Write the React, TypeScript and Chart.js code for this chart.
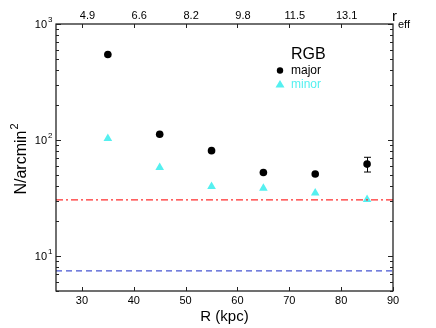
import React, { useEffect, useRef } from "react";
import { Chart, registerables } from "chart.js";

Chart.register(...registerables);

const radii = [35, 45, 55, 65, 75, 85];
const majorValues = [546, 112, 81, 52.5, 51, 62];
const majorErrors = [0, 0, 0, 0, 0, 9];
const minorValues = [103, 58, 39.7, 38.4, 35, 30.7];
const redLevel = 30.5;
const blueLevel = 7.45;
const xTickValues = [30, 40, 50, 60, 70, 80, 90];
const topTickValues = [30, 40, 50, 60, 70, 80];
const topTickLabels = ["4.9", "6.6", "8.2", "9.8", "11.5", "13.1"];
const yDecades = [1, 2, 3];

const FONT = "'Liberation Sans', Arial, Helvetica, sans-serif";
const CYAN = "rgb(85,240,240)";

const decorPlugin = {
  id: "decor",
  afterDatasetsDraw(chart: any) {
    const ctx = chart.ctx as CanvasRenderingContext2D;
    const xs = chart.scales.x;
    const ys = chart.scales.y;
    const { left, right, top, bottom } = chart.chartArea;
    ctx.save();

    // error bars
    ctx.strokeStyle = "#000";
    ctx.lineWidth = 1;
    radii.forEach((r, i) => {
      const e = majorErrors[i];
      if (!e) return;
      const px = Math.round(xs.getPixelForValue(r)) + 0.5;
      const y1 = ys.getPixelForValue(majorValues[i] + e);
      const y2 = ys.getPixelForValue(majorValues[i] - e);
      ctx.beginPath();
      ctx.moveTo(px, y1);
      ctx.lineTo(px, y2);
      ctx.moveTo(px - 3.5, y1);
      ctx.lineTo(px + 3.5, y1);
      ctx.moveTo(px - 3.5, y2);
      ctx.lineTo(px + 3.5, y2);
      ctx.stroke();
    });

    // frame
    ctx.strokeStyle = "#111";
    ctx.lineWidth = 1.2;
    ctx.strokeRect(left, top, right - left, bottom - top);

    // x ticks
    ctx.lineWidth = 1;
    ctx.strokeStyle = "#222";
    xTickValues.forEach((v) => {
      const px = Math.round(xs.getPixelForValue(v)) + 0.5;
      ctx.beginPath();
      ctx.moveTo(px, bottom);
      ctx.lineTo(px, bottom - 4);
      ctx.stroke();
    });
    topTickValues.forEach((v) => {
      const px = Math.round(xs.getPixelForValue(v)) + 0.5;
      ctx.beginPath();
      ctx.moveTo(px, top);
      ctx.lineTo(px, top + 4);
      ctx.stroke();
    });

    // y ticks
    const drawYTick = (v: number, len: number) => {
      const py = Math.round(ys.getPixelForValue(v)) + 0.5;
      ctx.beginPath();
      ctx.moveTo(left, py);
      ctx.lineTo(left + len, py);
      ctx.moveTo(right, py);
      ctx.lineTo(right - len, py);
      ctx.stroke();
    };
    for (let d = 0; d <= 3; d++) {
      for (let m = 1; m <= 9; m++) {
        const v = m * Math.pow(10, d);
        if (v < ys.min - 1e-9 || v > ys.max + 1e-9) continue;
        drawYTick(v, m === 1 ? 5 : 3);
      }
    }

    // x labels
    ctx.fillStyle = "#000";
    ctx.font = `11px ${FONT}`;
    ctx.textAlign = "center";
    ctx.textBaseline = "middle";
    xTickValues.forEach((v) => {
      ctx.fillText(String(v), xs.getPixelForValue(v), bottom + 10);
    });
    // top labels
    topTickValues.forEach((v, i) => {
      ctx.fillText(topTickLabels[i], xs.getPixelForValue(v) + 5.5, top - 8);
    });
    ctx.textAlign = "left";
    ctx.font = `15px ${FONT}`;
    ctx.fillText("r", right - 1, top - 7);
    ctx.font = `11px ${FONT}`;
    ctx.fillText("eff", right + 5, top + 1);

    // y labels
    yDecades.forEach((d) => {
      const py = ys.getPixelForValue(Math.pow(10, d));
      ctx.font = `11px ${FONT}`;
      ctx.textAlign = "right";
      ctx.textBaseline = "middle";
      ctx.fillText("10", left - 9, py + 1);
      ctx.font = `8px ${FONT}`;
      ctx.textAlign = "left";
      ctx.fillText(String(d), left - 8, py - 4);
    });

    // axis titles
    ctx.font = `15px ${FONT}`;
    ctx.textAlign = "center";
    ctx.textBaseline = "middle";
    ctx.fillText("R (kpc)", (left + right) / 2, bottom + 26);

    ctx.save();
    ctx.translate(22, (top + bottom) / 2 + 2);
    ctx.rotate(-Math.PI / 2);
    ctx.font = `16px ${FONT}`;
    const main = "N/arcmin";
    const w = ctx.measureText(main).width;
    ctx.font = `11px ${FONT}`;
    const w2 = ctx.measureText("2").width;
    const start = -(w + w2) / 2;
    ctx.font = `16px ${FONT}`;
    ctx.textAlign = "left";
    ctx.fillText(main, start, 0);
    ctx.font = `11px ${FONT}`;
    ctx.fillText("2", start + w + 1, -7);
    ctx.restore();

    // legend
    const lx = 291;
    ctx.textAlign = "left";
    ctx.textBaseline = "middle";
    ctx.font = `16px ${FONT}`;
    ctx.fillStyle = "#000";
    ctx.fillText("RGB", lx, 55);
    ctx.font = `12px ${FONT}`;
    ctx.fillText("major", lx, 71);
    ctx.fillStyle = CYAN;
    ctx.fillText("minor", lx, 85);
    ctx.fillStyle = "#000";
    ctx.beginPath();
    ctx.arc(280, 70.5, 3.2, 0, Math.PI * 2);
    ctx.fill();
    ctx.fillStyle = CYAN;
    ctx.beginPath();
    ctx.moveTo(280, 80);
    ctx.lineTo(284.5, 87.5);
    ctx.lineTo(275.5, 87.5);
    ctx.closePath();
    ctx.fill();

    ctx.restore();
  },
};

export default function App() {
  const ref = useRef<HTMLCanvasElement | null>(null);
  useEffect(() => {
    if (!ref.current) return;
    const chart = new Chart(ref.current, {
      type: "scatter",
      data: {
        datasets: [
          {
            label: "red",
            type: "line",
            data: [
              { x: 25, y: redLevel },
              { x: 90, y: redLevel },
            ],
            borderColor: "rgb(255,45,45)",
            borderWidth: 1.2,
            borderDash: [7, 3, 2, 3],
            pointRadius: 0,
            fill: false,
          },
          {
            label: "blue",
            type: "line",
            data: [
              { x: 25, y: blueLevel },
              { x: 90, y: blueLevel },
            ],
            borderColor: "rgb(70,85,210)",
            borderWidth: 1.1,
            borderDash: [6, 4],
            pointRadius: 0,
            fill: false,
          },
          {
            label: "minor",
            data: radii.map((r, i) => ({ x: r, y: minorValues[i] })),
            pointStyle: "triangle",
            pointRadius: 5,
            backgroundColor: CYAN,
            borderColor: CYAN,
            borderWidth: 0,
          },
          {
            label: "major",
            data: radii.map((r, i) => ({ x: r, y: majorValues[i] })),
            pointStyle: "circle",
            pointRadius: 3.8,
            backgroundColor: "#000",
            borderColor: "#000",
            borderWidth: 0,
          },
        ],
      },
      options: {
        animation: false,
        responsive: false,
        maintainAspectRatio: false,
        layout: { padding: { left: 56, right: 43, top: 24, bottom: 37 } },
        plugins: { legend: { display: false }, tooltip: { enabled: false } },
        scales: {
          x: { type: "linear", min: 25, max: 90, display: false },
          y: { type: "logarithmic", min: 5, max: 1000, display: false },
        },
      },
      plugins: [decorPlugin],
    });
    return () => chart.destroy();
  }, []);
  return (
    <div style={{ position: "fixed", left: 0, top: 0, width: 436, height: 328, background: "#fff" }}>
      <canvas ref={ref} width={436} height={328} style={{ width: 436, height: 328 }} />
    </div>
  );
}
